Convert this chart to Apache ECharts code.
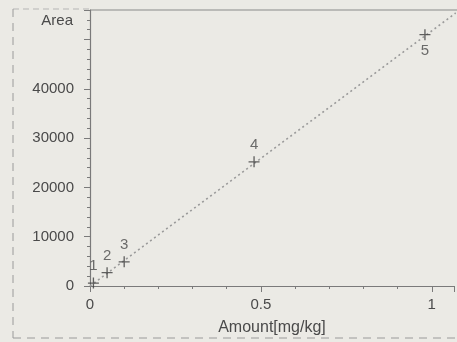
<!DOCTYPE html>
<html>
<head>
<meta charset="utf-8">
<script src="https://cdn.jsdelivr.net/npm/echarts@6/dist/echarts.min.js"></script>
<style>
html,body{margin:0;padding:0;background:#ebeae5;}
#c{width:457px;height:342px;}
</style>
</head>
<body>
<div id="c"></div>
<script>
// Calibration points
const pointLabels = ['1', '2', '3', '4', '5'];
const amounts = [0.01, 0.05, 0.1, 0.48, 0.98];      // mg/kg
const areas = [600, 2700, 4900, 25200, 51000];
// Fitted line (through origin) end points
const fitX = [0, 1.07];
const fitY = [0, 55400];
// Axis tick labels shown
const xTickLabels = ['0', '0.5', '1'];
const yTickLabels = ['0', '10000', '20000', '30000', '40000'];

const font = 'Liberation Sans, Arial, sans-serif';
const txt = '#4a4a4a';
const axisCol = '#7a7a7a';

const chart = echarts.init(document.getElementById('c'), null, {renderer: 'canvas'});

const pts = amounts.map((a, i) => ({
  value: [a, areas[i]],
  label: {
    show: true,
    formatter: pointLabels[i],
    position: i === 4 ? 'bottom' : 'top',
    distance: i === 4 ? 3 : 4
  }
}));

chart.setOption({
  backgroundColor: '#ebeae5',
  animation: false,
  grid: {left: 90, right: 0, top: 10, bottom: 56, containLabel: false},
  xAxis: {
    type: 'value', min: 0, max: 1.065, interval: 0.5,
    name: 'Amount[mg/kg]', nameLocation: 'middle', nameGap: 34,
    nameTextStyle: {color: txt, fontSize: 16, fontFamily: font},
    axisLine: {show: true, onZero: true, lineStyle: {color: axisCol, width: 1.2}},
    axisTick: {show: true, length: 6, lineStyle: {color: axisCol}},
    minorTick: {show: true, splitNumber: 5, length: 3, lineStyle: {color: axisCol}},
    axisLabel: {
      color: txt, fontSize: 15, fontFamily: font, margin: 11,
      formatter: v => {
        const i = [0, 0.5, 1].findIndex(t => Math.abs(t - v) < 1e-6);
        return i >= 0 ? xTickLabels[i] : '';
      }
    },
    splitLine: {show: false}
  },
  yAxis: {
    type: 'value', min: 0, max: 56000, interval: 10000,
    name: 'Area', nameLocation: 'end', nameGap: -3,
    nameTextStyle: {color: txt, fontSize: 15, fontFamily: font, align: 'right', verticalAlign: 'top', padding: [0, 17, 0, 0]},
    axisLine: {show: true, lineStyle: {color: axisCol, width: 1.2}},
    axisTick: {show: true, length: 6, lineStyle: {color: axisCol}},
    minorTick: {show: true, splitNumber: 5, length: 3, lineStyle: {color: axisCol}},
    axisLabel: {
      color: txt, fontSize: 15, fontFamily: font, margin: 16,
      formatter: v => {
        const i = [0, 10000, 20000, 30000, 40000].indexOf(v);
        return i >= 0 ? yTickLabels[i] : '';
      }
    },
    splitLine: {show: false}
  },
  series: [
    {
      type: 'line',
      data: fitX.map((x, i) => [x, fitY[i]]),
      symbol: 'none',
      lineStyle: {color: '#9a9a9a', width: 1.6, type: [2, 3]},
      silent: true,
      z: 1
    },
    {
      type: 'scatter',
      data: pts,
      symbol: 'path://M4.4,0H5.6V4.4H10V5.6H5.6V10H4.4V5.6H0V4.4H4.4Z',
      symbolSize: 11,
      itemStyle: {color: '#3c3c3c'},
      label: {color: txt, fontSize: 15, fontFamily: font},
      z: 3
    }
  ],
  graphic: [
    {type: 'line', shape: {x1: 90, y1: 10, x2: 457, y2: 10}, style: {stroke: '#8a8a8a', lineWidth: 1.2}, silent: true},
    {type: 'line', shape: {x1: 13, y1: 9, x2: 90, y2: 9}, style: {stroke: '#b5b5b5', lineWidth: 1, lineDash: [6, 4]}, silent: true},
    {type: 'line', shape: {x1: 13, y1: 9, x2: 13, y2: 338}, style: {stroke: '#9a9a9a', lineWidth: 1, lineDash: [8, 6]}, silent: true},
    {type: 'line', shape: {x1: 13, y1: 338, x2: 457, y2: 338}, style: {stroke: '#9a9a9a', lineWidth: 1, lineDash: [8, 6]}, silent: true}
  ]
});
</script>
</body>
</html>
